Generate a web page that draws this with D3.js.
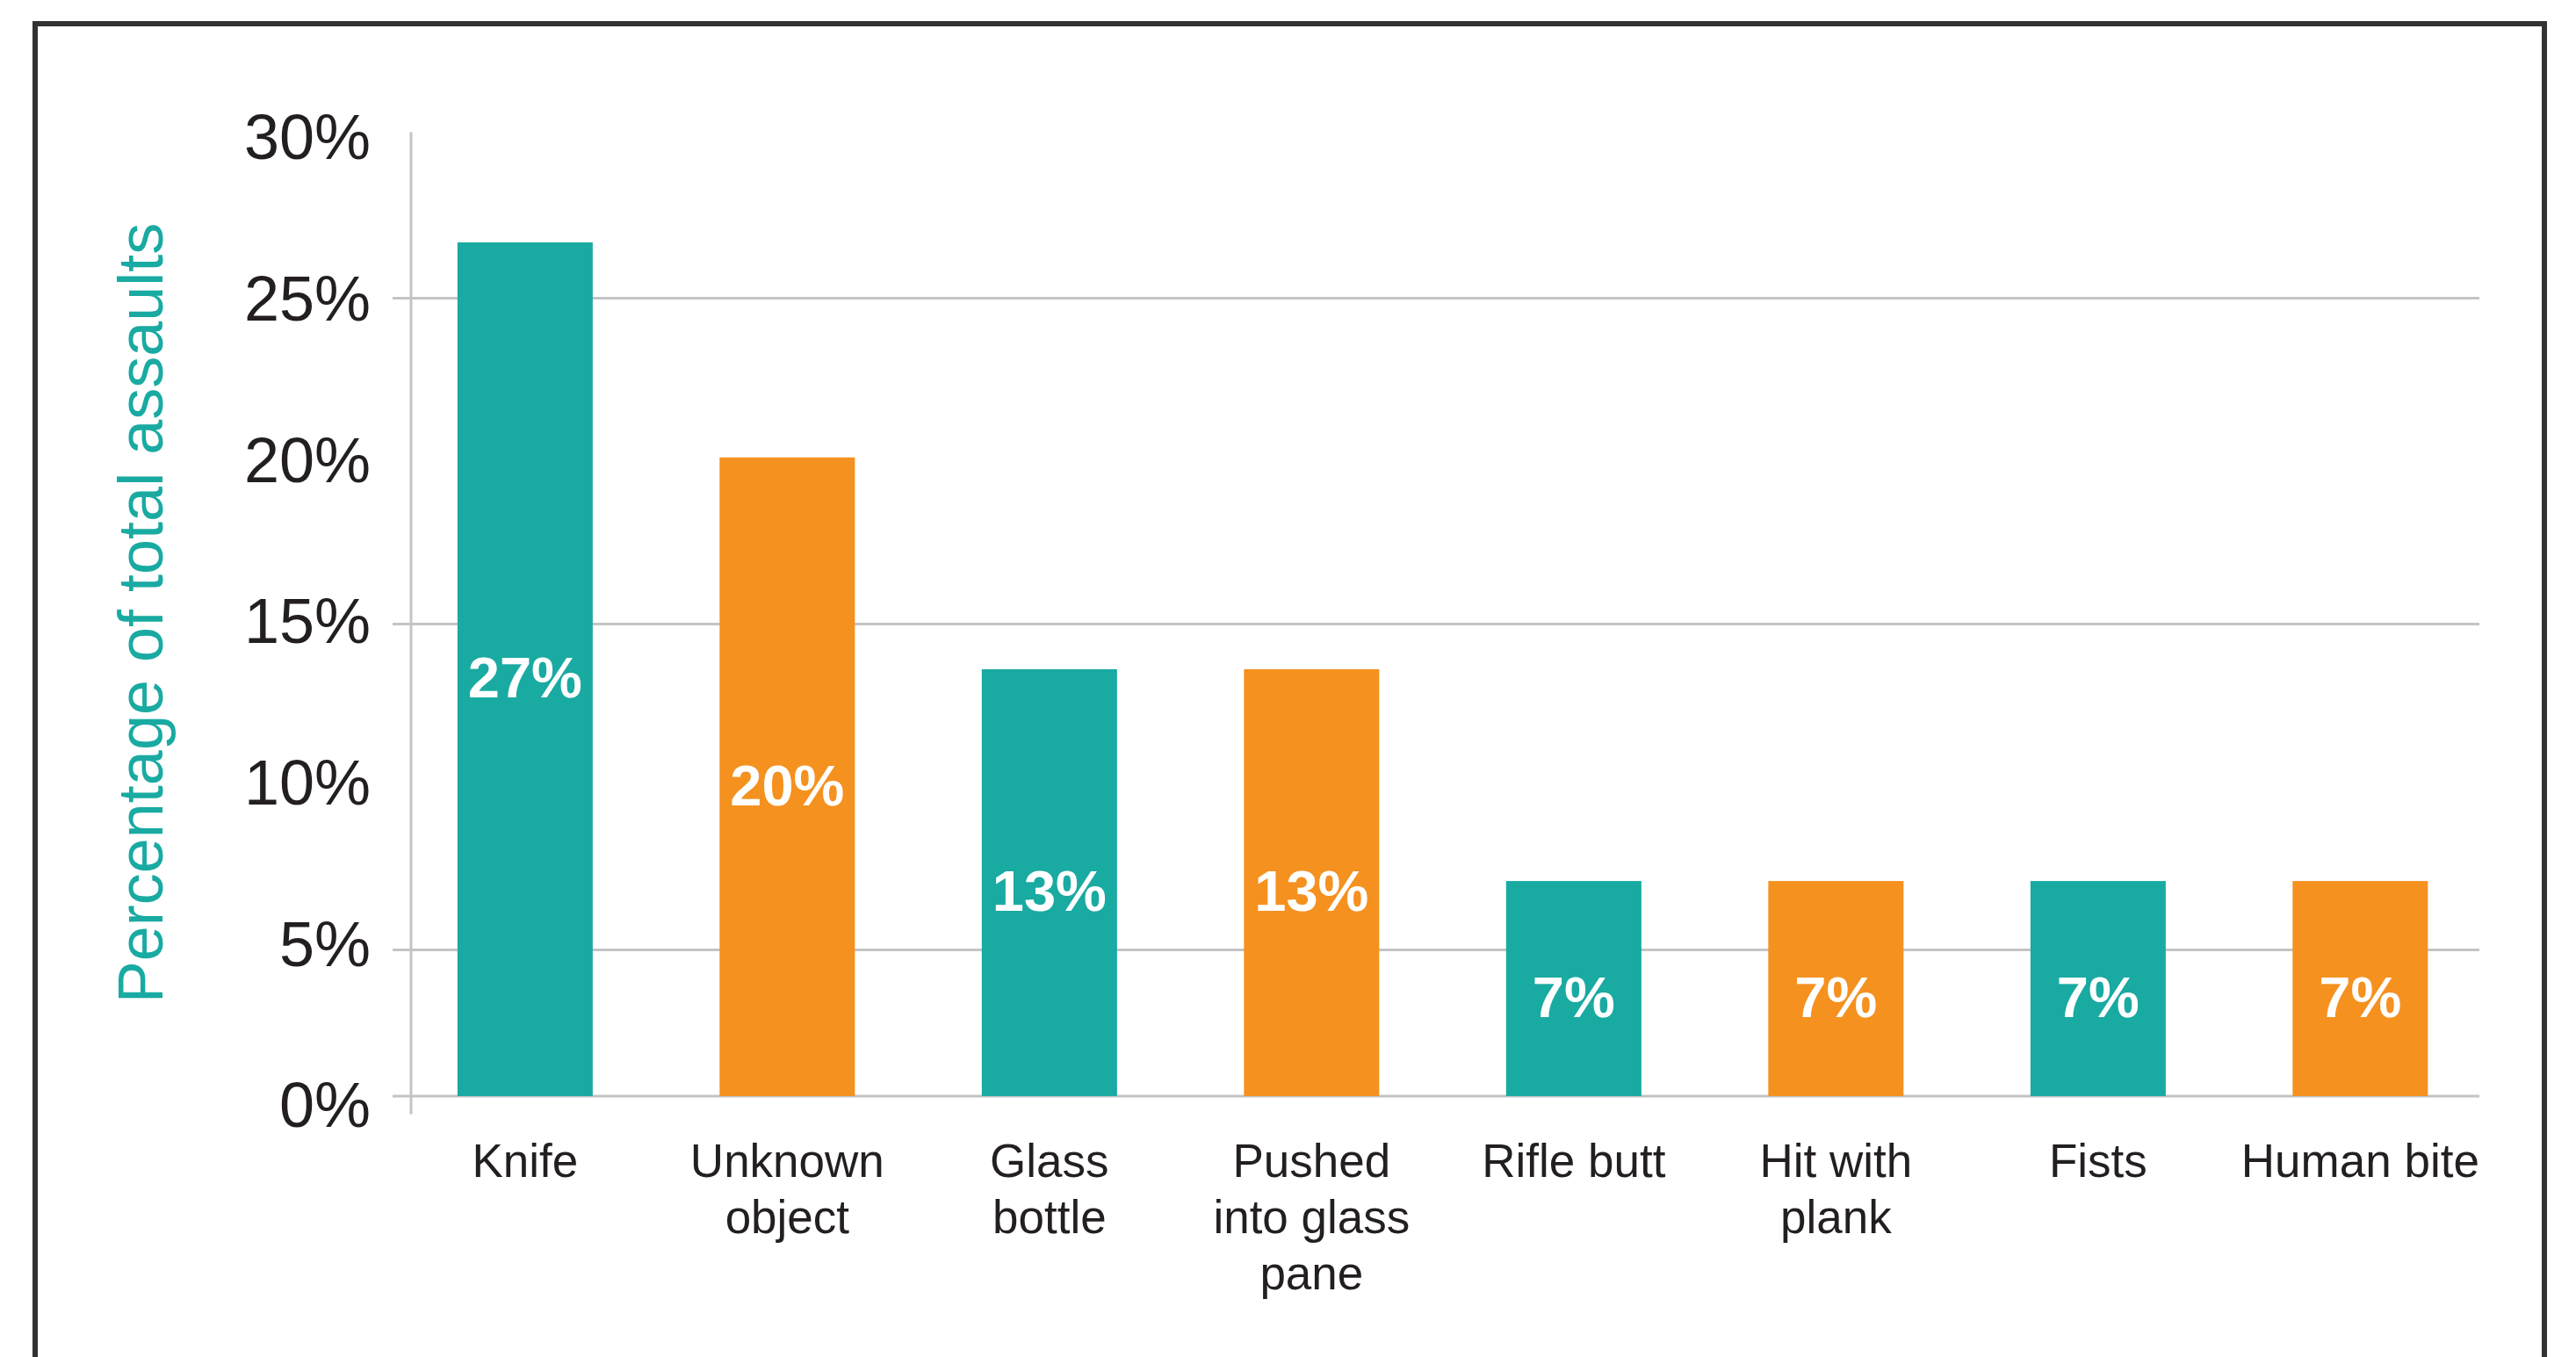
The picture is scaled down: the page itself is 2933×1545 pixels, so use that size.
<!DOCTYPE html>
<html>
<head>
<meta charset="utf-8">
<script src="https://cdn.jsdelivr.net/npm/d3@7"></script>
<style>
  html, body { margin: 0; padding: 0; background: #ffffff; }
  svg { display: block; }
  text { font-family: "Liberation Sans", Arial, Helvetica, sans-serif; }
</style>
</head>
<body>
<svg id="chart" width="2933" height="1545"></svg>
<script>
// ---- data ----
const categories = [
  ["Knife"],
  ["Unknown", "object"],
  ["Glass", "bottle"],
  ["Pushed", "into glass", "pane"],
  ["Rifle butt"],
  ["Hit with", "plank"],
  ["Fists"],
  ["Human bite"]
];
const values = [26.7, 20.1, 13.6, 13.6, 7.1, 7.1, 7.1, 7.1];
const valueLabels = ["27%", "20%", "13%", "13%", "7%", "7%", "7%", "7%"];
const barColors = ["#19aaa2", "#f5911f", "#19aaa2", "#f5911f", "#19aaa2", "#f5911f", "#19aaa2", "#f5911f"];
const yTicks = [0, 5, 10, 15, 20, 25, 30];
const gridValues = [25, 15, 5];
const yTitle = "Percentage of total assaults";
const baselineValue = 0.5;

// ---- layout ----
const svg = d3.select("#chart");
const axisX = 468;
const gridRight = 2823;
const tickLeft = 447;
const gray = "#c4c4c7";
const textColor = "#231f20";

const x = d3.scaleBand()
  .domain(d3.range(categories.length))
  .range([448.6, 2836.6])
  .paddingInner(0.484)
  .paddingOuter(0.242);

const y = d3.scaleLinear().domain([0, 30]).range([1266.5, 153.5]);
// tick labels sit on a slightly tighter spacing in the original
const yLabel = d3.scaleLinear().domain([0, 30]).range([1257, 155]);

// frame
svg.append("rect")
  .attr("x", 40).attr("y", 27)
  .attr("width", 2897 - 40).attr("height", 1700)
  .attr("fill", "none")
  .attr("stroke", "#333333")
  .attr("stroke-width", 6);

// gridlines
const gridAxis = d3.axisLeft(y)
  .tickValues(gridValues)
  .tickSize(-(gridRight - tickLeft))
  .tickFormat("");
const gridG = svg.append("g")
  .attr("transform", `translate(${tickLeft},0)`)
  .call(gridAxis);
gridG.select(".domain").remove();
gridG.selectAll(".tick line").attr("stroke", gray).attr("stroke-width", 3);

// baseline (category axis)
svg.append("line")
  .attr("x1", tickLeft).attr("x2", gridRight)
  .attr("y1", y(baselineValue)).attr("y2", y(baselineValue))
  .attr("stroke", gray).attr("stroke-width", 3);

// vertical axis line
svg.append("line")
  .attr("x1", axisX).attr("x2", axisX)
  .attr("y1", y(30) - 3).attr("y2", y(0) + 2)
  .attr("stroke", gray).attr("stroke-width", 3);

// y tick labels
const yAxis = d3.axisLeft(yLabel)
  .tickValues(yTicks)
  .tickSize(0)
  .tickPadding(0)
  .tickFormat(d => d + "%");
const yG = svg.append("g")
  .attr("transform", `translate(422,0)`)
  .call(yAxis);
yG.select(".domain").remove();
yG.selectAll(".tick text")
  .attr("fill", textColor)
  .attr("font-size", 72)
  .attr("font-family", "'Liberation Sans', Arial, sans-serif")
  .attr("dy", "0.36em");

// bars
svg.append("g").selectAll("rect")
  .data(values)
  .join("rect")
  .attr("x", (d, i) => x(i))
  .attr("width", x.bandwidth())
  .attr("y", d => y(d))
  .attr("height", d => y(baselineValue) - y(d))
  .attr("fill", (d, i) => barColors[i]);

// value labels
svg.append("g").selectAll("text")
  .data(values)
  .join("text")
  .attr("x", (d, i) => x(i) + x.bandwidth() / 2)
  .attr("y", d => (y(d) + y(baselineValue)) / 2 + 9)
  .attr("dy", "0.36em")
  .attr("text-anchor", "middle")
  .attr("fill", "#ffffff")
  .attr("font-weight", "bold")
  .attr("font-size", 65)
  .text((d, i) => valueLabels[i]);

// category labels
const catG = svg.append("g");
categories.forEach((lines, i) => {
  const t = catG.append("text")
    .attr("text-anchor", "middle")
    .attr("fill", textColor)
    .attr("font-size", 53);
  lines.forEach((ln, j) => {
    t.append("tspan")
      .attr("x", x(i) + x.bandwidth() / 2)
      .attr("y", 1340 + j * 64)
      .text(ln);
  });
});

// y title
svg.append("text")
  .attr("transform", `translate(185, ${y(15) - 12}) rotate(-90)`)
  .attr("text-anchor", "middle")
  .attr("fill", "#19aaa2")
  .attr("font-size", 72)
  .text(yTitle);
</script>
</body>
</html>
